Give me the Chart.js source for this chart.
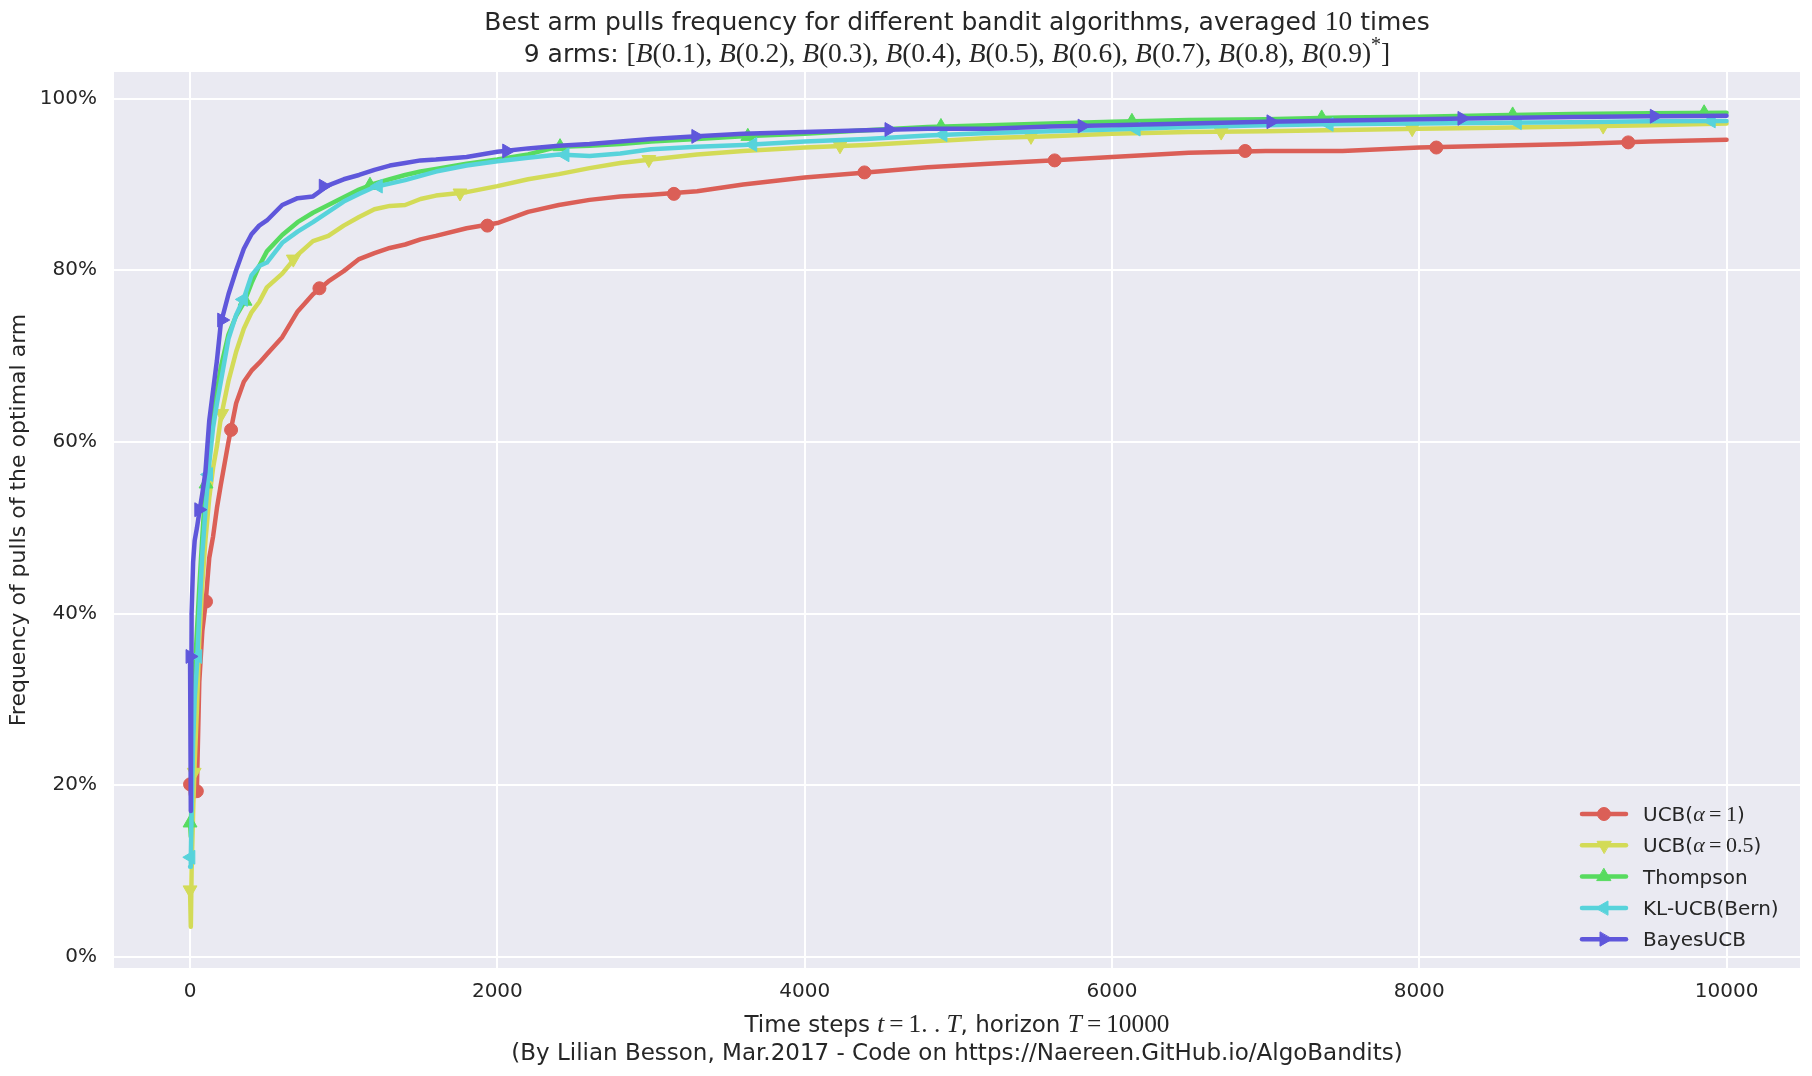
<!DOCTYPE html>
<html>
<head>
<meta charset="utf-8">
<script src="https://cdn.jsdelivr.net/npm/chart.js@4.4.1/dist/chart.umd.min.js"></script>
<style>
  html, body { margin: 0; padding: 0; background: #fff; }
</style>
</head>
<body>
<canvas id="myChart" width="1812" height="1076"></canvas>
<script>
const steps = [0, 5, 10, 20, 30, 45, 60, 80, 100, 125, 150, 175, 200, 250, 300, 350, 400, 450, 500, 600,
  700, 800, 900, 1000, 1100, 1200, 1300, 1400, 1500, 1600, 1800, 2000, 2200, 2400, 2600, 2800, 3000,
  3300, 3600, 4000, 4400, 4800, 5200, 5600, 6000, 6500, 7000, 7500, 8000, 8500, 9000, 9500, 10000];

// frequency of best arm pulls (%)
const ucbAlpha1 = [20.1, 19.0, 18.5, 18.5, 19.0, 20.0, 32.0, 38.0, 41.0, 46.5, 49.0, 52.3, 55.0, 60.0, 64.5,
  67.0, 68.3, 69.2, 70.2, 72.2, 75.2, 77.2, 78.7, 79.9, 81.3, 82.0, 82.6, 83.0, 83.6, 84.0, 84.9, 85.5,
  86.8, 87.6, 88.2, 88.6, 88.8, 89.2, 90.0, 90.8, 91.4, 92.0, 92.4, 92.8, 93.2, 93.7, 93.9, 93.9, 94.3,
  94.5, 94.7, 95.0, 95.2];
const ucbAlpha05 = [7.8, 3.5, 10.0, 17.0, 22.5, 29.0, 37.0, 43.5, 48.5, 53.5, 57.0, 59.5, 62.8, 67.1, 70.5,
  73.2, 75.1, 76.3, 78.0, 79.6, 81.8, 83.4, 84.0, 85.2, 86.2, 87.1, 87.5, 87.6, 88.3, 88.7, 89.1, 89.8,
  90.6, 91.2, 91.9, 92.5, 92.9, 93.5, 93.9, 94.3, 94.6, 95.0, 95.4, 95.6, 95.9, 96.1, 96.2, 96.35, 96.5,
  96.6, 96.75, 96.9, 97.1];
const thompson = [15.6, 14.0, 20.0, 28.0, 33.0, 38.0, 43.0, 49.0, 54.5, 59.0, 63.2, 66.0, 68.7, 72.5, 74.7,
  76.2, 78.5, 80.5, 82.2, 84.1, 85.6, 86.7, 87.6, 88.5, 89.4, 90.1, 90.6, 91.1, 91.5, 91.8, 92.4, 92.9,
  93.5, 94.4, 94.5, 94.7, 95.0, 95.3, 95.6, 95.9, 96.3, 96.7, 96.9, 97.1, 97.3, 97.5, 97.6, 97.8, 97.9,
  98.05, 98.2, 98.3, 98.35];
const klucb = [10.5, 11.6, 17.0, 25.0, 30.0, 34.0, 40.0, 47.0, 52.0, 57.5, 61.7, 64.5, 67.0, 72.0, 74.8,
  76.7, 79.4, 80.5, 80.9, 83.2, 84.5, 85.6, 86.8, 88.0, 88.9, 89.7, 90.1, 90.5, 91.0, 91.5, 92.2, 92.7,
  93.1, 93.5, 93.3, 93.6, 94.1, 94.4, 94.6, 95.0, 95.3, 95.7, 96.0, 96.2, 96.4, 96.7, 96.9, 97.05, 97.1,
  97.2, 97.25, 97.35, 97.4];
const bayesUcb = [35.0, 17.0, 40.0, 46.0, 48.5, 50.0, 51.8, 54.0, 56.5, 62.5, 66.0, 69.5, 73.8, 77.2, 80.0,
  82.5, 84.2, 85.2, 85.8, 87.6, 88.4, 88.6, 89.9, 90.6, 91.1, 91.7, 92.2, 92.5, 92.8, 92.9, 93.2, 93.8,
  94.2, 94.5, 94.7, 95.0, 95.3, 95.6, 95.9, 96.1, 96.3, 96.5, 96.5, 96.75, 96.9, 97.1, 97.3, 97.45, 97.6,
  97.75, 97.85, 97.95, 98.0];

// marker positions along each curve
const ucbAlpha1MarkX = [0, 44, 104, 267, 842, 1935, 3149, 4389, 5627, 6867, 8111, 9360];
const ucbAlpha1MarkY = [20.1, 19.3, 41.4, 61.4, 77.9, 85.2, 88.9, 91.4, 92.8, 93.9, 94.3, 94.9];
const ucbAlpha05MarkX = [0, 27, 206, 672, 1757, 2986, 4230, 5473, 6711, 7954, 9197];
const ucbAlpha05MarkY = [7.8, 21.5, 63.3, 81.3, 89.0, 92.9, 94.5, 95.6, 96.1, 96.5, 96.8];
const thompsonMarkX = [0, 104, 358, 1171, 2408, 3630, 4887, 6130, 7365, 8608, 9854];
const thompsonMarkY = [15.6, 55.1, 76.4, 89.9, 94.4, 95.6, 96.75, 97.35, 97.75, 98.1, 98.35];
const klucbMarkX = [5, 50, 120, 347, 1225, 2440, 3662, 4900, 6157, 7413, 8638, 9900];
const klucbMarkY = [11.6, 35.0, 56.2, 76.6, 89.8, 93.45, 94.65, 95.8, 96.45, 97.0, 97.2, 97.4];
const bayesUcbMarkX = [0, 57, 206, 867, 2061, 3292, 4549, 5806, 7035, 8278, 9530];
const bayesUcbMarkY = [35.0, 52.1, 74.2, 89.8, 93.9, 95.6, 96.4, 96.8, 97.3, 97.7, 97.95];

const xTicks = [0, 2000, 4000, 6000, 8000, 10000];
const yTicks = [0, 20, 40, 60, 80, 100];
const armMeans = [0.1, 0.2, 0.3, 0.4, 0.5, 0.6, 0.7, 0.8, 0.9];
const horizon = 10000;
const repetitions = 10;

const TXT = '#262626';
const series = [
  { vals: ucbAlpha1, mx: ucbAlpha1MarkX, my: ucbAlpha1MarkY, color: '#db5f57', style: 'circle', rot: 0, r: 6.5,
    label: [['UCB(', 's'], ['α', 'i'], ['\u2009=\u20091', 'u'], [')', 's']] },
  { vals: ucbAlpha05, mx: ucbAlpha05MarkX, my: ucbAlpha05MarkY, color: '#d3db57', style: 'triangle', rot: 180, r: 8,
    label: [['UCB(', 's'], ['α', 'i'], ['\u2009=\u20090.5', 'u'], [')', 's']] },
  { vals: thompson, mx: thompsonMarkX, my: thompsonMarkY, color: '#57db5f', style: 'triangle', rot: 0, r: 8,
    label: [['Thompson', 's']] },
  { vals: klucb, mx: klucbMarkX, my: klucbMarkY, color: '#57d3db', style: 'triangle', rot: 270, r: 8,
    label: [['KL-UCB(Bern)', 's']] },
  { vals: bayesUcb, mx: bayesUcbMarkX, my: bayesUcbMarkY, color: '#5f57db', style: 'triangle', rot: 90, r: 8,
    label: [['BayesUCB', 's']] },
];

const datasets = [];
series.forEach((s, i) => {
  datasets.push({
    data: steps.map((t, k) => ({ x: t, y: s.vals[k] })),
    borderColor: s.color,
    borderWidth: 4.5,
    borderCapStyle: 'round',
    borderJoinStyle: 'round',
    pointRadius: 0,
    tension: 0,
    order: 10 - 2 * i,
  });
  datasets.push({
    data: s.mx.map((t, k) => ({ x: t, y: s.my[k] })),
    showLine: false,
    pointStyle: s.style,
    rotation: s.rot,
    pointRadius: s.r,
    pointBackgroundColor: s.color,
    pointBorderColor: s.color,
    pointBorderWidth: 1,
    order: 9 - 2 * i,
  });
});

function fontFor(kind, size) {
  if (kind === 's') return size + "px 'DejaVu Sans'";
  if (kind === 'i') return 'italic ' + (size * 1.1) + "px 'Liberation Serif'";
  if (kind === 'sup') return (size * 0.8) + "px 'Liberation Serif'";
  return (size * 1.1) + "px 'Liberation Serif'";
}

function drawRich(ctx, segs, x, y, size, align) {
  let w = 0;
  segs.forEach(([t, k]) => { ctx.font = fontFor(k, size); w += ctx.measureText(t).width; });
  let cx = align === 'center' ? x - w / 2 : x;
  ctx.textAlign = 'left';
  ctx.textBaseline = 'alphabetic';
  segs.forEach(([t, k]) => {
    ctx.font = fontFor(k, size);
    ctx.fillText(t, cx, k === 'sup' ? y - size * 0.45 : y);
    cx += ctx.measureText(t).width;
  });
}

const titleLine2 = [['9 arms: ', 's'], ['[', 'u']];
armMeans.forEach((p, i) => {
  titleLine2.push(['B', 'i'], ['(' + p + ')', 'u']);
  if (i === armMeans.length - 1) titleLine2.push(['*', 'sup'], [']', 'u']);
  else titleLine2.push([', ', 'u']);
});

const textPlugin = {
  id: 'textPlugin',
  beforeDraw(chart) {
    const { ctx, chartArea: a } = chart;
    ctx.save();
    ctx.fillStyle = '#ffffff';
    ctx.fillRect(0, 0, chart.width, chart.height);
    ctx.fillStyle = '#eaeaf2';
    ctx.fillRect(a.left, a.top, a.right - a.left, a.bottom - a.top);
    ctx.restore();
  },
  afterDraw(chart) {
    const { ctx, chartArea: a } = chart;
    const cx = (a.left + a.right) / 2;
    ctx.save();
    ctx.fillStyle = TXT;
    drawRich(ctx, [['Best arm pulls frequency for different bandit algorithms, averaged ', 's'],
      [String(repetitions), 'u'], [' times', 's']], cx, 30, 25, 'center');
    drawRich(ctx, titleLine2, cx, 62, 25, 'center');
    drawRich(ctx, [['Time steps ', 's'], ['t', 'i'], ['\u2009=\u20091. . ', 'u'], ['T', 'i'],
      [', horizon ', 's'], ['T', 'i'], ['\u2009=\u2009' + horizon, 'u']], cx, 1032, 23, 'center');
    drawRich(ctx, [['(By Lilian Besson, Mar.2017 - Code on https://Naereen.GitHub.io/AlgoBandits)', 's']],
      cx, 1060, 23, 'center');

    // legend
    series.forEach((s, i) => {
      const y = 814 + i * 31.3;
      ctx.strokeStyle = s.color;
      ctx.fillStyle = s.color;
      ctx.lineWidth = 4.5;
      ctx.lineCap = 'round';
      ctx.beginPath();
      ctx.moveTo(1582, y);
      ctx.lineTo(1626, y);
      ctx.stroke();
      ctx.lineWidth = 1;
      Chart.helpers.drawPoint(ctx, { pointStyle: s.style, rotation: s.rot, radius: s.r, borderWidth: 1 }, 1604, y);
      ctx.fillStyle = TXT;
      drawRich(ctx, s.label, 1643, y + 7, 20, 'left');
    });
    ctx.restore();
  }
};

const tickFont = { family: "'DejaVu Sans'", size: 20 };

new Chart(document.getElementById('myChart').getContext('2d'), {
  type: 'line',
  data: { datasets },
  options: {
    responsive: false,
    animation: false,
    layout: { padding: { top: 72, right: 12, left: 0, bottom: 0 } },
    plugins: { legend: { display: false }, tooltip: { enabled: false } },
    scales: {
      x: {
        type: 'linear',
        min: -495,
        max: 10478,
        afterBuildTicks: (s) => { s.ticks = xTicks.map((v) => ({ value: v })); },
        afterFit: (s) => { s.height = 108; },
        ticks: { font: tickFont, color: TXT, padding: 12, maxRotation: 0, callback: (v) => String(v) },
        grid: { color: '#ffffff', lineWidth: 2, drawTicks: false },
        border: { display: false },
      },
      y: {
        min: -1.3,
        max: 103.1,
        afterBuildTicks: (s) => { s.ticks = yTicks.map((v) => ({ value: v })); },
        afterFit: (s) => { s.width = 114; },
        ticks: { font: tickFont, color: TXT, padding: 17, callback: (v) => v + '%' },
        grid: { color: '#ffffff', lineWidth: 2, drawTicks: false },
        border: { display: false },
        title: {
          display: true,
          text: 'Frequency of pulls of the optimal arm',
          font: { family: "'DejaVu Sans'", size: 22 },
          color: TXT,
          padding: { top: 6, bottom: 0 },
        },
      },
    },
  },
  plugins: [textPlugin],
});
</script>
</body>
</html>
